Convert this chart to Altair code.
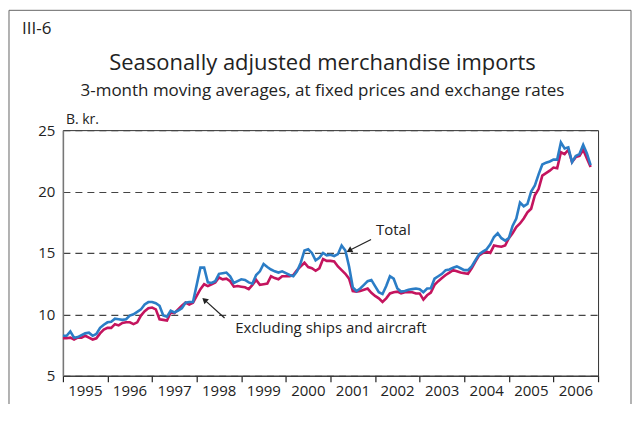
import altair as alt
import pandas as pd

# Monthly 3-month moving averages, billion NOK, Jan 1995 onwards
total = [8.25, 8.25, 8.6, 8.1, 8.15, 8.3, 8.45, 8.5, 8.25, 8.4, 8.9, 9.15,
         9.35, 9.4, 9.65, 9.6, 9.55, 9.6, 9.9, 10.0, 10.2, 10.4, 10.8, 11.0,
         11.0, 10.9, 10.7, 9.9, 9.8, 10.3, 10.15, 10.3, 10.5, 10.95, 11.0, 11.0,
         12.4, 13.8, 13.8, 12.6, 12.55, 12.7, 13.3, 13.35, 13.4, 13.1, 12.55, 12.7,
         12.85, 12.8, 12.6, 12.5, 13.2, 13.5, 14.1, 13.85, 13.65, 13.5, 13.4, 13.5,
         13.35, 13.2, 13.1, 13.5, 14.2, 15.2, 15.3, 15.0, 14.4, 14.6, 15.0, 14.8,
         14.85, 14.75, 14.9, 15.6, 15.2, 13.9, 12.2, 11.9, 12.1, 12.4, 12.7, 12.8,
         12.3, 11.8, 11.65, 12.3, 13.1, 12.9, 12.1, 11.85, 11.9, 12.0, 12.05, 12.1,
         12.05, 11.8, 12.1, 12.12, 12.9, 13.1, 13.3, 13.6, 13.65, 13.8, 13.9, 13.75,
         13.6, 13.6, 13.9, 14.4, 14.9, 15.1, 15.3, 15.7, 16.3, 16.6, 16.2, 16.0,
         16.2, 17.2, 17.8, 19.1, 18.8, 19.0, 20.0, 20.5, 21.4, 22.2, 22.35, 22.45,
         22.6, 22.6, 24.0, 23.5, 23.6, 22.4, 22.9, 23.05, 23.8, 23.1, 22.15]
excl = [8.05, 8.05, 8.1, 7.95, 8.1, 8.1, 8.25, 8.1, 7.95, 8.05, 8.45, 8.75,
        8.9, 8.9, 9.2, 9.1, 9.3, 9.35, 9.35, 9.2, 9.35, 9.9, 10.25, 10.5,
        10.55, 10.4, 9.6, 9.55, 9.5, 10.15, 10.1, 10.4, 10.7, 10.95, 10.8, 10.95,
        11.5, 12.05, 12.45, 12.3, 12.45, 12.6, 13.0, 12.85, 12.9, 12.7, 12.25, 12.3,
        12.25, 12.2, 12.05, 12.4, 12.8, 12.4, 12.45, 12.5, 13.1, 12.95, 12.85, 13.1,
        13.1, 13.1, 13.2, 13.6, 13.9, 14.2, 13.85, 13.75, 13.55, 13.75, 14.5, 14.35,
        14.35, 14.3, 13.9, 13.6, 13.3, 12.9, 11.9, 11.85, 11.9, 12.0, 12.1, 11.75,
        11.5, 11.3, 11.0, 11.3, 11.7, 11.8, 11.85, 11.7, 11.8, 11.8, 11.8, 11.7,
        11.7, 11.2, 11.55, 11.77, 12.4, 12.7, 12.95, 13.2, 13.4, 13.6, 13.5, 13.4,
        13.35, 13.3, 13.75, 14.3, 14.8, 15.0, 15.1, 15.0, 15.6, 15.55, 15.5, 15.6,
        16.2, 16.6, 17.1, 17.4, 17.8, 18.3, 18.6, 19.7, 20.2, 21.3, 21.5, 21.7,
        21.95, 21.9, 23.2, 23.05, 23.4, 22.4, 22.8, 22.9, 23.4, 22.7, 22.0]
dates = pd.date_range("1995-01-01", periods=len(total), freq="MS")
years = list(range(1995, 2008))
y_ticks = [5, 10, 15, 20, 25]

FONT = "Open Sans"
BLUE = "#2b7dc6"
MAGENTA = "#c4145e"
INK = "#222222"

# decimal-year position of each month (start of month)
t = [d.year + (d.month - 1) / 12 for d in dates]
df = pd.DataFrame({"t": t, "total": total, "excl": excl})

xscale = alt.Scale(domain=[1995, 2007], nice=False, zero=False)
yscale = alt.Scale(domain=[5, 25], nice=False, zero=False)

x_axis = alt.Axis(values=years, format="d",
                  labelExpr="datum.value > 2006 ? '' : datum.label",
                  labelOffset=22, labelOverlap=False, labelBound=False, labelFlush=False,
                  labelAlign="center",
                  tickSize=6, tickColor="#222", tickWidth=1.2, ticks=True,
                  labelFontSize=15, labelPadding=2, labelColor=INK, labelFont=FONT,
                  grid=False, title=None, domainColor="#333", domainWidth=1)
y_axis = alt.Axis(values=y_ticks, title=None, grid=True, gridDash=[7, 5],
                  gridColor="#444", gridWidth=1.2, ticks=False, labelPadding=8,
                  labelFontSize=15, labelColor=INK, labelFont=FONT,
                  labelOverlap=False, labelFlush=False,
                  domainColor="#777", domainWidth=1.5)

X = lambda f: alt.X(f, type="quantitative", scale=xscale, axis=x_axis)
Y = lambda f: alt.Y(f, type="quantitative", scale=yscale, axis=y_axis)

line_excl = alt.Chart(df).mark_line(color=MAGENTA, strokeWidth=2.6).encode(
    x=X("t"), y=Y("excl"))
line_total = alt.Chart(df).mark_line(color=BLUE, strokeWidth=2.6).encode(
    x=X("t"), y=Y("total"))

# annotation arrows (data coordinates, decimal years)
arrows = pd.DataFrame({
    "x": [2001.91, 1998.625],
    "y": [16.1, 9.7],
    "x2": [2001.42, 1998.175],
    "y2": [15.19, 11.18],
    "ang": [242, 312],
})
arrow_lines = alt.Chart(arrows).mark_rule(color=INK, strokeWidth=1.2).encode(
    x=X("x"), x2="x2:Q", y=Y("y"), y2="y2:Q")
arrow_heads = alt.Chart(arrows).mark_point(shape="triangle-up", filled=True,
                                           color=INK, size=45, opacity=1).encode(
    x=X("x2"), y=Y("y2"), angle=alt.Angle("ang:Q", scale=None))

labels = pd.DataFrame({
    "x": [2002.41, 2001.01],
    "y": [16.87, 8.9],
    "label": ["Total", "Excluding ships and aircraft"],
})
label_text = alt.Chart(labels).mark_text(font=FONT, fontSize=15, color=INK,
                                         baseline="middle", align="center").encode(
    x=X("x"), y=Y("y"), text="label:N")

one = pd.DataFrame({"a": [0]})
frame = alt.Chart(one).mark_rect(fillOpacity=0, stroke="#666", strokeWidth=1).encode(
    x=alt.value(-54), x2=alt.value(569), y=alt.value(-120), y2=alt.value(300))

def txt(s, x, y, size, align="center"):
    return alt.Chart(one).mark_text(text=s, font=FONT, fontSize=size, color=INK,
                                    align=align, baseline="alphabetic").encode(
        x=alt.value(x), y=alt.value(y))

texts = [
    txt("III-6", -41, -96, 17, "left"),
    txt("Seasonally adjusted merchandise imports", 260, -60, 22),
    txt("3-month moving averages, at fixed prices and exchange rates", 260, -34, 17),
    txt("B. kr.", 3, -6, 14, "left"),
]

chart = alt.layer(line_excl, line_total, arrow_lines, arrow_heads,
                  label_text, frame, *texts).properties(
    width=536, height=246,
    autosize=alt.AutoSizeParams(type="none"),
    padding={"left": 55, "top": 122, "right": 34, "bottom": 28},
).configure_view(stroke="#333", strokeWidth=1)

chart.save("out.html", embed_options={"renderer": "svg", "actions": False})
